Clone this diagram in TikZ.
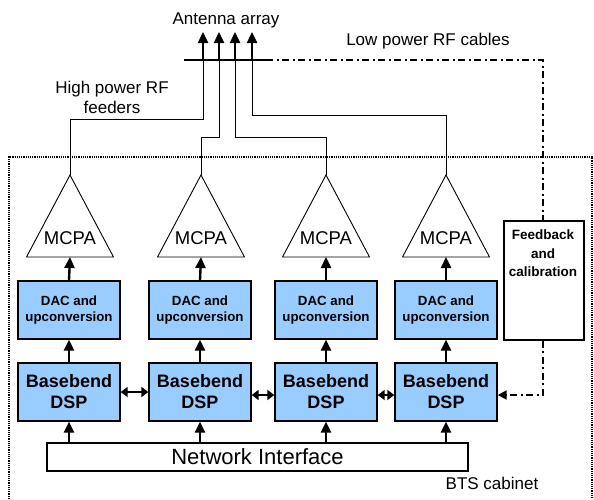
\documentclass[tikz,border=0pt]{standalone}
\usepackage{fontspec}
\setmainfont{Liberation Sans}
\usetikzlibrary{arrows.meta}
\definecolor{boxblue}{HTML}{99CCFF}
\tikzset{
  blockbox/.style={draw, line width=1.4pt, fill=boxblue, minimum width=102pt, minimum height=58pt, inner sep=0pt, align=center, font=\bfseries},
  plainbox/.style={draw, line width=1.4pt, fill=white, inner sep=0pt},
  amp/.style={draw, line width=0.9pt, fill=white},
  uparrow/.style={line width=2.4pt, -{Triangle[length=11pt,width=10pt]}},
  twoway/.style={line width=2.4pt, {Triangle[length=7pt,width=10pt]}-{Triangle[length=7pt,width=10pt]}},
  feeder/.style={line width=0.9pt},
  lowrf/.style={line width=1.8pt, dash pattern=on 7pt off 3.5pt on 2pt off 3.5pt},
  lbl/.style={font=\fontsize{17}{20}\selectfont, inner sep=0pt},
}
\begin{document}
\begin{tikzpicture}[x=1pt, y=-1pt]
\useasboundingbox (0,0) rectangle (594,499);

% cabinet outline, open at the bottom
\draw[line width=1.6pt, dash pattern=on 1.2pt off 1pt] (9,499) -- (9,157) -- (592,157) -- (592,499);

% antenna array: bus bar and four radiating elements
\coordinate (busL) at (184,60);
\coordinate (busR) at (266,60);
\draw[line width=2.2pt] (busL) -- (busR);
\foreach \i/\x in {1/203,2/219,3/235,4/252} {
  \coordinate (ant\i) at (\x,60);
  \coordinate (tip\i) at (\x,32);
  \draw[uparrow] (ant\i) -- (tip\i);
}
\node[lbl] (antlabel) at (226,20) {Antenna array};
\node[lbl] (lowlabel) at (428,41) {Low power RF cables};
\node[lbl, align=center, font=\fontsize{17}{20}\selectfont] (hplabel) at (112,97) {High power RF\\feeders};

% power amplifiers
\foreach \i/\x in {1/70,2/201,3/326,4/446} {
  \draw[amp] (\x-43.5,257) -- (\x,175) -- (\x+43.5,257) -- cycle;
  \coordinate (mtop\i) at (\x,175);
  \coordinate (mbot\i) at (\x,257);
  \node[font=\fontsize{18.5}{20}\selectfont, inner sep=0pt] (mcpa\i) at (\x,238) {MCPA};
}

% DAC / upconversion and baseband blocks
\foreach \i/\x in {1/69,2/200,3/326,4/446} {
  \node[blockbox, font=\bfseries\fontsize{13.3}{16}\selectfont] (dac\i) at (\x,310) {DAC and\\upconversion};
  \node[blockbox, font=\bfseries\fontsize{18}{21}\selectfont] (dsp\i) at (\x,392) {Basebend\\DSP};
}

% network interface
\node[plainbox, minimum width=421pt, minimum height=28pt, font=\fontsize{22}{24}\selectfont] (ni) at (257.5,457) {Network Interface};
\node[lbl] (bts) at (492,483) {BTS cabinet};

% feedback and calibration
\node[plainbox, minimum width=80pt, minimum height=119pt] (fb) at (544,280.5) {};
\node[font=\bfseries\fontsize{13.5}{18.5}\selectfont, align=center, inner sep=0pt, anchor=north] (fbtext) at (543,230) {Feedback\\and\\calibration};

% signal flow upwards
\foreach \i in {1,2,3,4} {
  \draw[uparrow] (ni.north -| dsp\i) -- (dsp\i.south);
  \draw[uparrow] (dsp\i.north) -- (dac\i.south);
  \draw[uparrow] (dac\i.north) -- (mbot\i);
}

% links between baseband units
\draw[twoway] ([yshift=0pt]dsp1.east) -- (dsp2.west);
\draw[twoway] ([yshift=-3pt]dsp2.east) -- ([yshift=-3pt]dsp3.west);
\draw[twoway] ([yshift=-3pt]dsp3.east) -- ([yshift=-3pt]dsp4.west);

% high power RF feeders
\draw[feeder] (mtop1) -- (70,119) -| (ant1);
\draw[feeder] (mtop2) -- (201,137) -| (ant2);
\draw[feeder] (mtop3) -- (326,137) -| (ant3);
\draw[feeder] (mtop4) -- (446,115) -| (ant4);

% low power RF cables through the feedback path
\coordinate (lowcorner) at (543,60);
\coordinate (fbturn) at (543,395);
\draw[lowrf] (busR) -- (lowcorner) -- (fb.north -| lowcorner);
\draw[lowrf, -{Triangle[length=9pt,width=9pt]}] (fb.south -| fbturn) -- (fbturn) -- (dsp4.east |- fbturn);
\end{tikzpicture}
\end{document}
